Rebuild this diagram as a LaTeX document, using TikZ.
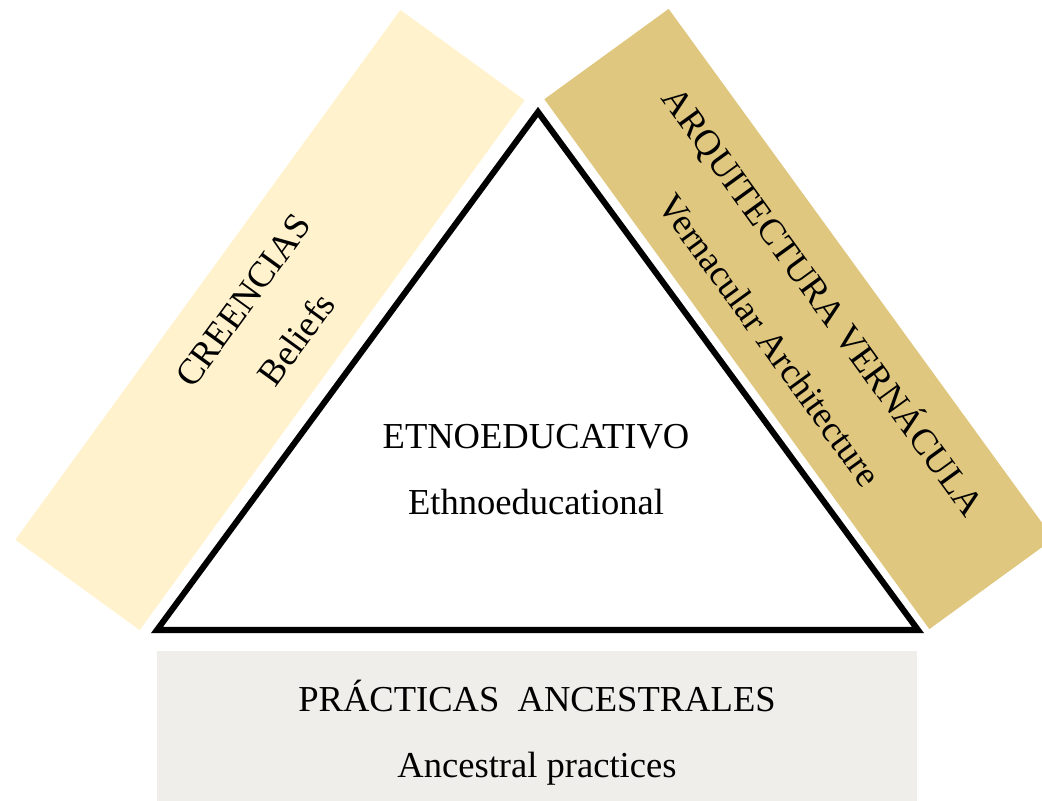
\documentclass[tikz,border=0pt]{standalone}
\usepackage{fontspec}
\setmainfont{Liberation Serif}
\usetikzlibrary{positioning}
\definecolor{beliefband}{HTML}{FFF2CC}
\definecolor{archband}{HTML}{E0C77F}
\definecolor{practiceband}{HTML}{EFEEEA}
\tikzset{
  every node/.style={font=\fontsize{26}{47}\selectfont,align=center},
  band/.style={minimum width=16.37cm,minimum height=3.84cm,inner sep=0pt},
  practicebox/.style={fill=practiceband,minimum width=19cm,minimum height=3.75cm,inner sep=0pt},
  frame/.style={draw=black,line width=4.3pt,line join=miter}}

\begin{document}
\begin{tikzpicture}[x=.025cm,y=-.025cm]
\useasboundingbox (0,0) rectangle (1042,801);
% side bands along the triangle
\node[band,fill=beliefband,rotate=54] (beliefs) at (270,320) {CREENCIAS\\Beliefs};
\node[band,fill=archband,rotate=-54] (vernacular) at (799,319) {ARQUITECTURA VERNÁCULA\\Vernacular Architecture};
% central triangle
\coordinate (apex) at (538,112);
\coordinate (baseleft) at (157,630);
\coordinate (baseright) at (918,630);
\draw[frame] (apex)--(baseleft)--(baseright)--cycle;
\node (core) at (536,470) {ETNOEDUCATIVO\\Ethnoeducational};
% bottom band
\node[practicebox] (practicebox) at (537,726) {};
\node (practices) at (537,733) {PRÁCTICAS\ \ ANCESTRALES\\Ancestral practices};
\end{tikzpicture}
\end{document}
